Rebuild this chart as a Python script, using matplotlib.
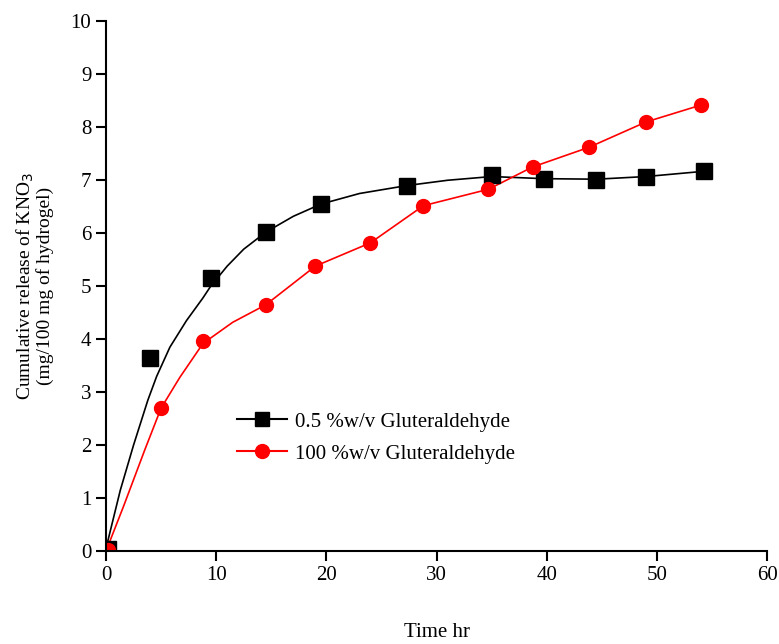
import matplotlib.pyplot as plt

plt.rcParams['font.family'] = ['Liberation Serif', 'DejaVu Serif']

# measured points (time in hr, release in mg/100 mg hydrogel)
t_low = [0.2, 4.0, 9.5, 14.5, 19.5, 27.3, 35.0, 39.7, 44.5, 49.0, 54.3]
rel_low = [0.05, 3.65, 5.15, 6.02, 6.55, 6.90, 7.10, 7.03, 7.00, 7.07, 7.17]

t_high = [0.2, 5.0, 8.8, 14.5, 19.0, 24.0, 28.8, 34.7, 38.7, 43.8, 49.0, 54.0]
rel_high = [0.02, 2.70, 3.97, 4.65, 5.38, 5.82, 6.52, 6.83, 7.25, 7.62, 8.10, 8.42]

# fitted curves
fit_t_low = [0.0, 1.3, 2.5, 3.8, 4.6, 5.8, 7.3, 8.8, 9.5, 11.0, 12.5, 14.5, 17.0, 19.5,
             23.0, 27.3, 31.0, 35.0, 39.7, 44.5, 49.0, 54.3]
fit_rel_low = [0.05, 1.15, 2.00, 2.85, 3.30, 3.85, 4.35, 4.78, 5.00, 5.38, 5.70, 6.02, 6.32, 6.55,
               6.75, 6.90, 7.00, 7.07, 7.03, 7.02, 7.07, 7.17]

fit_t_high = [0.0, 1.6, 3.5, 5.0, 6.7, 8.8, 11.5, 14.5, 19.0, 24.0, 28.8, 34.7,
              38.7, 43.8, 49.0, 54.0]
fit_rel_high = [0.0, 0.85, 1.90, 2.70, 3.28, 3.92, 4.32, 4.65, 5.38, 5.82, 6.52, 6.83,
                7.25, 7.62, 8.10, 8.42]

fig = plt.figure(figsize=(7.79, 6.44), dpi=100)
ax = fig.add_axes([0.136, 0.144, 0.849, 0.823])

ax.plot(fit_t_low, fit_rel_low, color='black', lw=1.2)
ax.plot(fit_t_high, fit_rel_high, color='red', lw=1.2)
ax.plot(t_low, rel_low, 's', color='black', ms=11, linestyle='none')
ax.plot(t_high, rel_high, 'o', color='red', ms=10, linestyle='none')

# legend entries
h1, = ax.plot([], [], color='black', marker='s', ms=10, lw=1.5)
h2, = ax.plot([], [], color='red', marker='o', ms=10, lw=1.5)
ax.legend([h1, h2], ['0.5 %w/v Gluteraldehyde', '100 %w/v Gluteraldehyde'],
          loc='upper left', bbox_to_anchor=(0.17, 0.298), frameon=False,
          fontsize=15, handlelength=2.4, handletextpad=0.4, labelspacing=0.6)

ax.set_xlim(0, 60)
ax.set_ylim(0, 10)
ax.set_xticks(range(0, 61, 10))
ax.set_yticks(range(0, 11))
ax.spines['top'].set_visible(False)
ax.spines['right'].set_visible(False)
ax.spines['left'].set_linewidth(1.5)
ax.spines['bottom'].set_linewidth(1.5)
ax.tick_params(direction='out', length=7, width=1.5, labelsize=15)

ax.set_xlabel('Time hr', fontsize=15)
ax.xaxis.set_label_coords(0.5, -0.135)
ax.set_ylabel('Cumulative release of KNO$_3$\n(mg/100 mg of hydrogel)', fontsize=14,
              labelpad=12, linespacing=1.0)

fig.savefig('out.png', dpi=100)
